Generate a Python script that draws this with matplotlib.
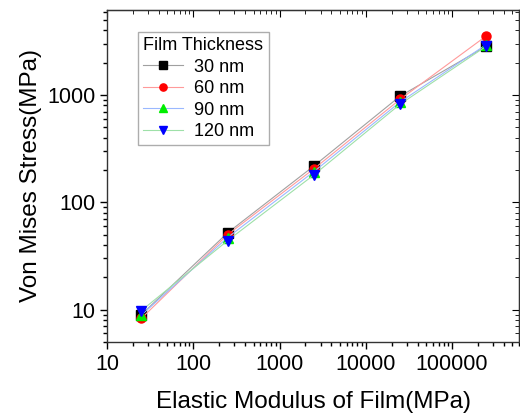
import matplotlib
matplotlib.use("Agg")
import matplotlib.pyplot as plt
from matplotlib.ticker import LogLocator, NullFormatter, FixedLocator, FixedFormatter

plt.rcParams['font.family'] = ['Liberation Sans', 'DejaVu Sans']

# data
modulus = [25, 250, 2500, 25000, 250000]
labels = ["30 nm", "60 nm", "90 nm", "120 nm"]
stress_30 = [9.0, 52, 218, 975, 2850]
stress_60 = [8.3, 50, 205, 910, 3550]
stress_90 = [8.9, 47, 193, 860, 2950]
stress_120 = [9.8, 44, 180, 820, 2850]

series = [stress_30, stress_60, stress_90, stress_120]
markers = ["s", "o", "^", "v"]
mcolors = ["black", "red", "#00ee00", "blue"]
lcolors = ["#a0a0a0", "#ff9a9a", "#9ab8ff", "#9ee0a8"]

fig = plt.figure(figsize=(5.2, 4.17), dpi=100)
ax = fig.add_axes([0.206, 0.18, 0.792, 0.796])

for ys, lab, m, mc, lc in zip(series, labels, markers, mcolors, lcolors):
    ax.plot(modulus, ys, color=lc, lw=0.8, marker=m, markersize=6.5,
            markerfacecolor=mc, markeredgecolor=mc, label=lab)

ax.set_xscale("log")
ax.set_yscale("log")
ax.set_xlim(10, 6e5)
ax.set_ylim(5, 6200)

xt = [10, 100, 1000, 10000, 100000]
ax.xaxis.set_major_locator(FixedLocator(xt))
ax.xaxis.set_major_formatter(FixedFormatter([str(v) for v in xt]))
yt = [10, 100, 1000]
ax.yaxis.set_major_locator(FixedLocator(yt))
ax.yaxis.set_major_formatter(FixedFormatter([str(v) for v in yt]))
for axis in (ax.xaxis, ax.yaxis):
    axis.set_minor_locator(LogLocator(base=10, subs=range(2, 10)))
    axis.set_minor_formatter(NullFormatter())

ax.tick_params(which="both", direction="out", top=False, right=False,
               labelsize=15.5, width=1)
ax.tick_params(which="major", length=5)
ax.tick_params(which="minor", length=3)
ax2 = ax.secondary_xaxis("top")
ax2.set_xticks(xt)
ax2.xaxis.set_minor_locator(LogLocator(base=10, subs=range(2, 10)))
ax2.tick_params(which="both", direction="in", labeltop=False)
ax2.tick_params(which="major", length=5)
ax2.tick_params(which="minor", length=3)
ax2.set_xticklabels([])
ay2 = ax.secondary_yaxis("right")
ay2.set_yticks(yt)
ay2.yaxis.set_minor_locator(LogLocator(base=10, subs=range(2, 10)))
ay2.tick_params(which="both", direction="in")
ay2.tick_params(which="major", length=5)
ay2.tick_params(which="minor", length=3)
ay2.set_yticklabels([])
ay2.yaxis.set_minor_formatter(NullFormatter())
ax2.xaxis.set_minor_formatter(NullFormatter())

for s in ax.spines.values():
    s.set_color("#333333")
    s.set_linewidth(1)

ax.set_xlabel("Elastic Modulus of Film(MPa)", fontsize=17.5, labelpad=12)
ax.set_ylabel("Von Mises Stress(MPa)", fontsize=17.5, labelpad=4)

leg = ax.legend(title="Film Thickness", loc="upper left",
                bbox_to_anchor=(0.075, 0.935), fontsize=13, title_fontsize=13,
                fancybox=False, edgecolor="#999999", handlelength=2.2,
                handletextpad=0.6, borderpad=0.3, labelspacing=0.25,
                alignment="left", borderaxespad=0, markerscale=0.8)
leg.get_frame().set_linewidth(1)

fig.savefig("out.png", dpi=100)
